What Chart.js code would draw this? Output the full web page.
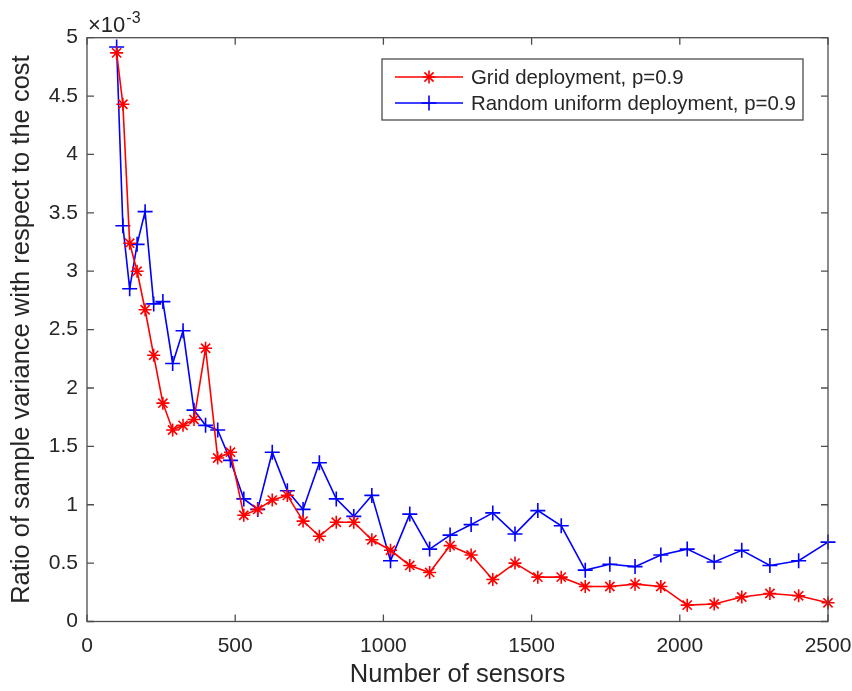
<!DOCTYPE html>
<html>
<head>
<meta charset="utf-8">
<script src="https://cdn.jsdelivr.net/npm/chart.js@4"></script>
<style>
  html, body { margin: 0; padding: 0; background: #ffffff; }
  #wrap { width: 852px; height: 691px; position: relative; }
</style>
</head>
<body>
<div id="wrap"><canvas id="c" width="852" height="691"></canvas></div>
<script>
// ---- data (values in units of 1e-3) ----
const sensors = [100,121,144,169,196,225,256,289,324,361,400,441,484,529,576,625,676,729,784,841,900,961,1024,1089,1156,1225,1296,1369,1444,1521,1600,1681,1764,1849,1936,2025,2116,2209,2304,2401,2500];
const gridDeployment = [4.87,4.43,3.24,3.00,2.67,2.28,1.87,1.64,1.68,1.73,2.34,1.40,1.45,0.91,0.96,1.04,1.08,0.86,0.73,0.85,0.85,0.70,0.61,0.48,0.42,0.65,0.57,0.36,0.50,0.38,0.38,0.30,0.30,0.32,0.30,0.14,0.15,0.21,0.24,0.22,0.16];
const randomDeployment = [4.92,3.39,2.85,3.23,3.51,2.72,2.74,2.21,2.49,1.81,1.68,1.64,1.38,1.05,0.96,1.45,1.12,0.96,1.36,1.05,0.90,1.08,0.52,0.92,0.62,0.74,0.83,0.93,0.75,0.95,0.82,0.44,0.49,0.47,0.57,0.62,0.51,0.61,0.48,0.52,0.68];
const seriesLabels = ['Grid deployment, p=0.9', 'Random uniform deployment, p=0.9'];
const xTicks = [0, 500, 1000, 1500, 2000, 2500];
const yTicks = [0, 0.5, 1, 1.5, 2, 2.5, 3, 3.5, 4, 4.5, 5];
const exponentLabel = '-3';
const xTitle = 'Number of sensors';
const yTitle = 'Ratio of sample variance with respect to the cost';

const TEXT = '#262626';
const AXIS = '#4d4d4d';
const FONT = '"Liberation Sans", Arial, Helvetica, sans-serif';

const boxTicks = {
  id: 'boxTicks',
  afterDatasetsDraw(chart) {
    const {ctx, chartArea: a, scales: {x, y}} = chart;
    ctx.save();
    ctx.strokeStyle = AXIS;
    ctx.lineWidth = 1.3;
    ctx.strokeRect(a.left, a.top, a.right - a.left, a.bottom - a.top);
    const L = 7;
    ctx.beginPath();
    xTicks.forEach(v => {
      const px = x.getPixelForValue(v);
      ctx.moveTo(px, a.bottom); ctx.lineTo(px, a.bottom - L);
      ctx.moveTo(px, a.top); ctx.lineTo(px, a.top + L);
    });
    yTicks.forEach(v => {
      const py = y.getPixelForValue(v);
      ctx.moveTo(a.left, py); ctx.lineTo(a.left + L, py);
      ctx.moveTo(a.right, py); ctx.lineTo(a.right - L, py);
    });
    ctx.stroke();

    // exponent label
    ctx.fillStyle = TEXT;
    ctx.textBaseline = 'alphabetic';
    ctx.textAlign = 'left';
    ctx.font = '22px ' + FONT;
    const base = '\u00d710';
    ctx.fillText(base, a.left + 1, 32);
    const w = ctx.measureText(base).width;
    ctx.font = '16px ' + FONT;
    ctx.fillText(exponentLabel, a.left + 1 + w + 1, 23);

    // legend
    const lx = 382, ly = 59, lw = 421, lh = 61;
    ctx.fillStyle = '#ffffff';
    ctx.fillRect(lx, ly, lw, lh);
    ctx.strokeStyle = AXIS;
    ctx.lineWidth = 1.3;
    ctx.strokeRect(lx, ly, lw, lh);
    const rows = [77, 103];
    chart.data.datasets.forEach((ds, i) => {
      const ry = rows[i];
      ctx.strokeStyle = ds.borderColor;
      ctx.lineWidth = ds.borderWidth;
      ctx.beginPath();
      ctx.moveTo(395, ry); ctx.lineTo(463, ry);
      ctx.stroke();
      Chart.helpers.drawPoint(ctx, {pointStyle: ds.pointStyle, radius: ds.pointRadius, borderWidth: ds.pointBorderWidth}, 429, ry);
      ctx.fillStyle = TEXT;
      ctx.font = '20.4px ' + FONT;
      ctx.textBaseline = 'middle';
      ctx.fillText(ds.label, 471, ry + 1);
    });
    ctx.restore();
  }
};

const ctx = document.getElementById('c').getContext('2d');
new Chart(ctx, {
  type: 'line',
  data: {
    datasets: [
      {
        label: seriesLabels[0],
        data: sensors.map((s, i) => ({x: s, y: gridDeployment[i]})),
        borderColor: '#ff0000',
        backgroundColor: '#ff0000',
        borderWidth: 1.6,
        pointStyle: 'star',
        pointRadius: 6.5,
        pointBorderWidth: 1.6,
        pointBorderColor: '#ff0000',
        tension: 0,
        fill: false,
        clip: false
      },
      {
        label: seriesLabels[1],
        data: sensors.map((s, i) => ({x: s, y: randomDeployment[i]})),
        borderColor: '#0000ff',
        backgroundColor: '#0000ff',
        borderWidth: 1.6,
        pointStyle: 'cross',
        pointRadius: 7.5,
        pointBorderWidth: 1.6,
        pointBorderColor: '#0000ff',
        tension: 0,
        fill: false,
        clip: false
      }
    ]
  },
  options: {
    responsive: false,
    animation: false,
    devicePixelRatio: 1,
    layout: { padding: { top: 37.7, right: 24, left: 0, bottom: 0 } },
    plugins: { legend: { display: false }, tooltip: { enabled: false } },
    scales: {
      x: {
        type: 'linear',
        min: 0, max: 2500,
        afterBuildTicks: s => { s.ticks = xTicks.map(v => ({value: v})); },
        afterFit: s => { s.height = 69.5; s.paddingLeft = 0; s.paddingRight = 0; },
        grid: { display: false, drawTicks: false, tickLength: 0 },
        border: { display: false },
        ticks: { color: TEXT, font: { family: FONT, size: 21 }, padding: 12, maxRotation: 0, autoSkip: false,
                 callback: v => String(v) },
        title: { display: true, text: xTitle, color: TEXT, font: { family: FONT, size: 25.5 }, padding: { top: 0, bottom: 1 } }
      },
      y: {
        type: 'linear',
        min: 0, max: 5,
        afterBuildTicks: s => { s.ticks = yTicks.map(v => ({value: v})); },
        afterFit: s => { s.width = 87; s.paddingTop = 0; s.paddingBottom = 0; },
        grid: { display: false, drawTicks: false, tickLength: 0 },
        border: { display: false },
        ticks: { color: TEXT, font: { family: FONT, size: 21 }, padding: 9, autoSkip: false,
                 callback: v => String(v) },
        title: { display: true, text: yTitle, color: TEXT, font: { family: FONT, size: 25.5 }, padding: { top: 7, bottom: 0 } }
      }
    }
  },
  plugins: [boxTicks]
});
</script>
</body>
</html>
